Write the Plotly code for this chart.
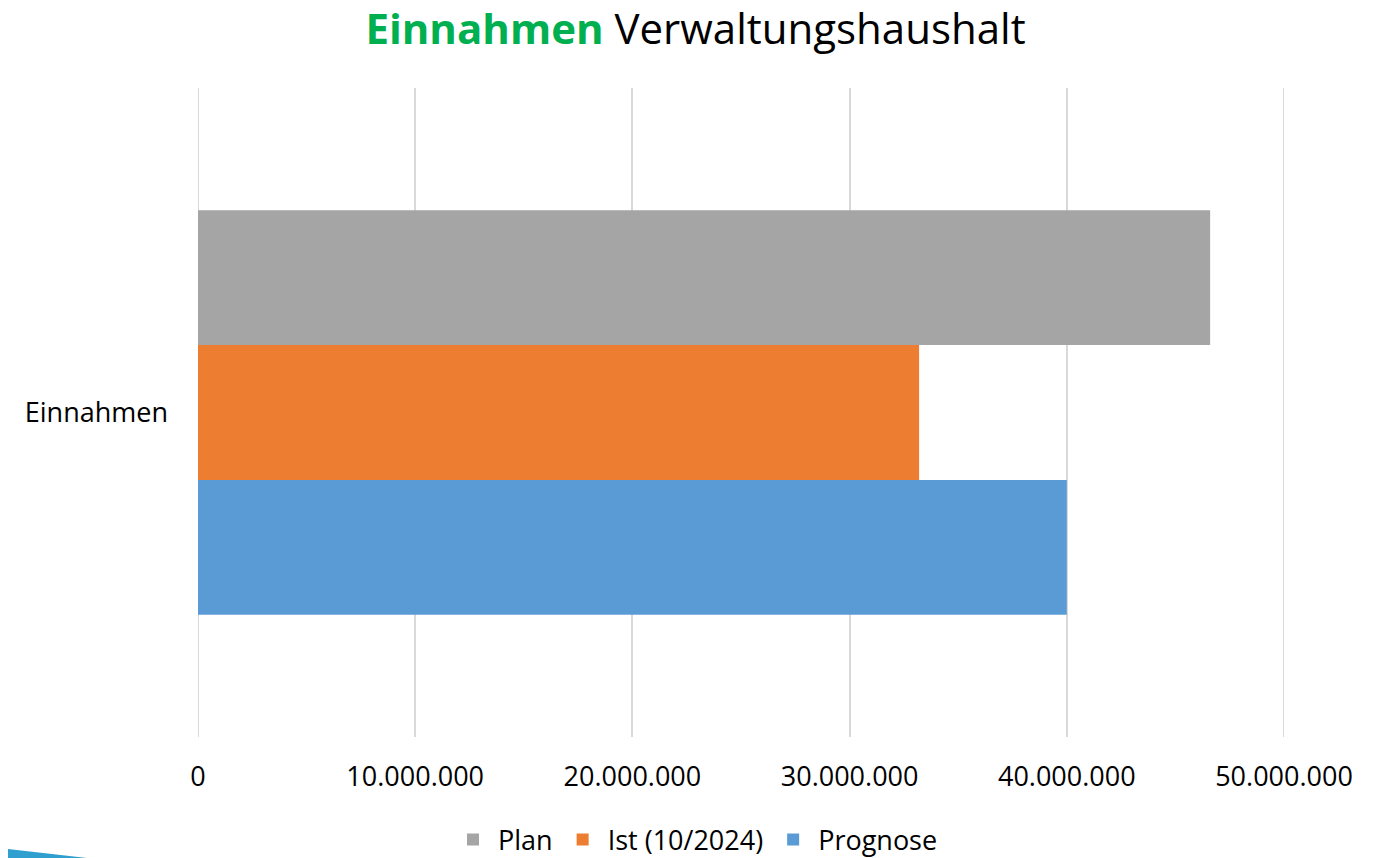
import plotly.graph_objects as go

categories = ["Einnahmen"]
series_names = ["Plan", "Ist (10/2024)", "Prognose"]
plan_values = [46600000]
ist_values = [33200000]
prognose_values = [40000000]
tick_values = [0, 10000000, 20000000, 30000000, 40000000, 50000000]
tick_labels = ["0", "10.000.000", "20.000.000", "30.000.000", "40.000.000", "50.000.000"]

colors = {"Plan": "#A5A5A5", "Ist (10/2024)": "#ED7D31", "Prognose": "#5B9BD5"}
values = {"Plan": plan_values, "Ist (10/2024)": ist_values, "Prognose": prognose_values}

FONT = "Open Sans"
# page has an 8px body margin; figure sized to fill the remaining viewport
W, H = 1375, 850
L, R, T, B = 190, 99, 80, 121
PW, PH = W - L - R, H - T - B

fig = go.Figure()
# plotly stacks horizontal groups bottom-up, so add in reverse
for rank, name in reversed(list(enumerate(series_names))):
    fig.add_trace(go.Bar(
        y=categories, x=values[name], name=name, orientation="h",
        marker=dict(color=colors[name], line=dict(width=0)),
        legendrank=rank + 1,
        hovertemplate="%{x:,.0f}<extra>" + name + "</extra>",
    ))

# gridlines at the axis ends (plotly clips them otherwise)
shapes = [dict(type="line", xref="x", yref="paper", x0=v, x1=v, y0=0, y1=1,
               line=dict(color="#D9D9D9", width=2), layer="below")
          for v in (tick_values[0], tick_values[-1])]

def px(fx, fy):
    return (fx - L) / PW, (H - B - fy) / PH

p1, p2, p3 = px(0, 840.9), px(79, 850), px(0, 850)
shapes.append(dict(
    type="path", xref="paper", yref="paper", layer="above",
    path="M %f %f L %f %f L %f %f Z" % (p1 + p2 + p3),
    fillcolor="#2E9FCF", line=dict(width=0),
))

fig.update_layout(
    width=W, height=H,
    paper_bgcolor="white", plot_bgcolor="white",
    margin=dict(l=L, r=R, t=T, b=B),
    barmode="group", bargap=0.377, bargroupgap=0,
    font=dict(family=FONT, color="#000000", size=27),
    title=dict(
        text="<b><span style='color:#00B050'>Einnahmen</span></b> Verwaltungshaushalt",
        font=dict(family=FONT, size=42, color="#000000"),
        x=0.5, xref="container", xanchor="center",
        y=1 - 21 / H, yref="container", yanchor="middle",
    ),
    legend=dict(
        orientation="h", x=0.5, xref="container", xanchor="center",
        y=(H - 832) / H, yref="container", yanchor="middle",
        font=dict(family=FONT, size=27, color="#000000"),
        itemsizing="constant", traceorder="normal", itemwidth=40,
    ),
    xaxis=dict(
        range=[0, 50000000], tickvals=tick_values, ticktext=tick_labels,
        showgrid=True, gridcolor="#D9D9D9", gridwidth=2,
        zeroline=False, showline=False, ticks="",
        ticklabelstandoff=21,
        tickfont=dict(family=FONT, size=27, color="#000000"),
    ),
    yaxis=dict(
        showgrid=False, zeroline=False, showline=False, ticks="",
        ticklabelstandoff=29,
        tickfont=dict(family=FONT, size=27, color="#000000"),
    ),
    shapes=shapes,
)

fig.write_html("out.html")
